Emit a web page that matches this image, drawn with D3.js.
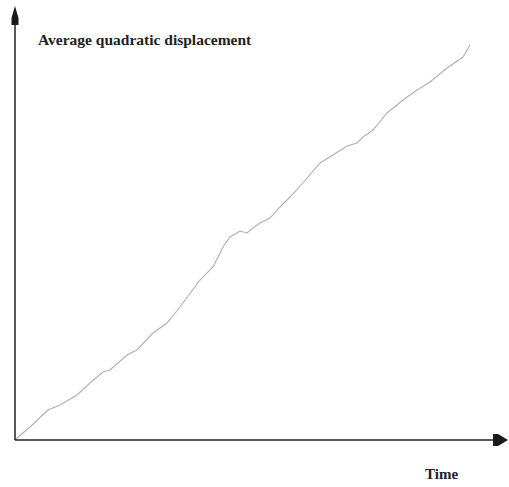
<!DOCTYPE html>
<html><head><meta charset="utf-8">
<script src="https://cdn.jsdelivr.net/npm/d3@7"></script>
<style>html,body{margin:0;padding:0;background:#fff;}svg{display:block;}</style>
</head><body>
<script>
const timeVals = [0,2,15,33,45,62,75,88,95,112,122,138,152,165,185,198,208,215,225,232,238,245,255,265,275,288,305,318,332,342,348,358,372,388,402,415,432,448,455];
const dispVals = [0,2,13,30,35,45,57,68,70,85,90,107,117,133,160,173,193,203,209,207,212,217,222,233,243,257,277,285,294,297,303,310,327,340,350,358,372,383,395];
const yTitle = "Average quadratic displacement";
const xTitle = "Time";

const W = 509, H = 487;
const svg = d3.select("body").append("svg").attr("width", W).attr("height", H);
const x = d3.scaleLinear().domain([0, 480]).range([15, 495]);
const y = d3.scaleLinear().domain([0, 430]).range([440, 10]);

const data = timeVals.map((t, i) => ({t, v: dispVals[i]}));

svg.append("path").datum(data)
  .attr("fill", "none").attr("stroke", "#b0b0b0").attr("stroke-width", 1.1)
  .attr("d", d3.line().x(d => x(d.t)).y(d => y(d.v)));

// axes
const x0 = x(0), y0 = y(0);
svg.append("line").attr("x1", x0).attr("y1", y0).attr("x2", 500).attr("y2", y0)
  .attr("stroke", "#222").attr("stroke-width", 1.5);
svg.append("line").attr("x1", x0).attr("y1", y0).attr("x2", x0).attr("y2", 10)
  .attr("stroke", "#222").attr("stroke-width", 1.5);
// arrowheads
svg.append("path").attr("d", `M${x0},6 L${x0+3.5},18 L${x0+3.5},25 L${x0-3.5},25 L${x0-3.5},18 Z`).attr("fill", "#1a1a1a");
svg.append("path").attr("d", `M508,${y0} L498,${y0-6} L493,${y0-6} L493,${y0+6} L498,${y0+6} Z`).attr("fill", "#1a1a1a");

svg.append("text").attr("x", 38).attr("y", 45)
  .attr("font-family", "Liberation Serif, Times New Roman, serif").attr("font-weight", "bold")
  .attr("font-size", 15.5).attr("fill", "#222").text(yTitle);
svg.append("text").attr("x", 425).attr("y", 479)
  .attr("font-family", "Liberation Serif, Times New Roman, serif").attr("font-weight", "bold")
  .attr("font-size", 15).attr("fill", "#222").text(xTitle);
</script>
</body></html>
